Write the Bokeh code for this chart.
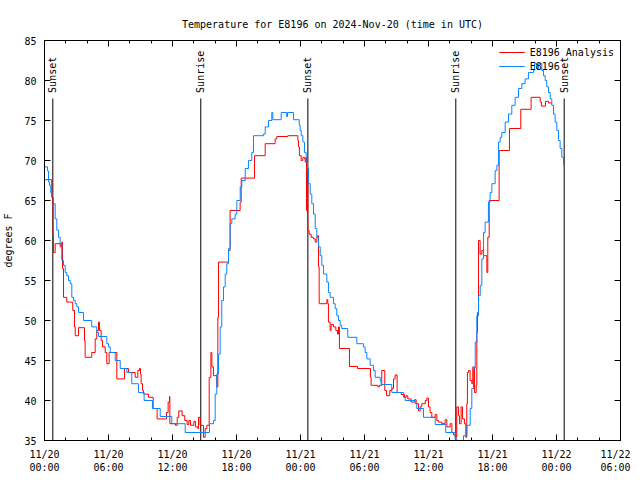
import math
from bokeh.plotting import figure
from bokeh.models import (Range1d, FixedTicker, LinearAxis, Legend, LegendItem,
                          ColumnDataSource)
from bokeh.embed import file_html
from bokeh.resources import INLINE
from bokeh.core.properties import value

# ---------------- data (hours since 2024-11-20 00:00 UTC, degrees F) -------------
obs_hours = [0.0, 0.28, 0.38, 0.47, 0.59, 0.68, 0.84, 1.0, 1.15, 1.31, 1.47, 1.62, 1.78,
             1.94, 2.09, 2.25, 2.41, 2.56, 2.72, 2.88, 3.03, 3.19, 3.66, 4.43, 4.9, 5.06,
             5.84, 6.0, 6.16, 6.63, 7.1, 7.72, 8.18, 8.81, 9.34, 10.12, 10.85, 11.93, 13.19,
             15.47, 15.84, 16.0, 16.15, 16.31, 16.47, 16.62, 16.78, 16.94, 17.09, 17.25,
             17.41, 17.56, 17.87, 18.03, 18.35, 18.5, 18.82, 19.12, 19.43, 19.59, 20.53,
             20.69, 21.0, 21.31, 21.4, 22.19, 22.7, 22.78, 23.34, 23.88, 23.97, 24.07,
             24.22, 24.38, 24.53, 24.66, 24.75, 24.91, 25.06, 25.22, 25.38, 25.53, 25.69,
             25.85, 26.0, 26.16, 26.47, 26.62, 26.78, 27.09, 27.25, 27.4, 27.56, 27.72,
             27.87, 28.43, 29.28, 29.9, 30.06, 30.22, 30.53, 30.84, 31.0, 31.47, 31.56,
             32.56, 33.66, 33.82, 34.75, 34.9, 35.53, 36.63, 37.62, 38.5, 38.65, 39.28,
             39.59, 39.91, 40.06, 40.22, 40.38, 40.53, 40.69, 40.85, 41.0, 41.16, 41.31,
             41.62, 41.78, 41.94, 42.25, 42.41, 42.56, 42.72, 42.87, 43.19, 43.5, 43.81,
             44.12, 44.44, 44.75, 45.06, 45.37, 45.84, 45.94, 46.12, 46.31, 46.62, 46.78,
             46.94, 47.09, 47.25, 47.41, 47.56, 47.72, 47.87, 48.03, 48.19, 48.34, 48.5,
             48.66, 48.75]
obs_temp = [69.2, 68.7, 67.3, 66.9, 66.0, 65.4, 64.6, 62.7, 61.3, 60.4, 59.6, 57.5, 56.9,
            56.0, 55.6, 55.0, 54.6, 52.9, 52.5, 52.1, 51.7, 51.0, 50.0, 49.2, 48.5, 48.0,
            47.1, 46.7, 46.0, 45.0, 44.0, 43.5, 42.1, 41.0, 40.0, 39.0, 38.0, 37.1, 36.0,
            37.1, 37.5, 40.8, 43.3, 45.8, 49.2, 52.5, 54.2, 55.8, 57.1, 59.0,
            62.1, 62.7, 63.3, 65.0, 66.7, 67.5, 69.0, 70.0, 71.0, 73.1, 73.3,
            74.2, 75.0, 76.0, 75.1, 76.0, 75.5, 76.0, 75.1, 74.4, 73.75, 73.1,
            72.3, 71.0, 69.8, 69.0, 67.1, 65.8, 64.6, 63.3, 61.5, 60.4, 59.2,
            58.1, 56.9, 55.8, 54.8, 53.5, 52.9, 52.1, 51.5, 50.6, 50.0, 49.4,
            49.0, 47.9, 47.1, 46.7, 46.0, 45.2, 44.4, 43.75, 42.9, 42.5, 42.0,
            41.0, 40.4, 40.0, 39.6, 39.0, 37.9, 37.0, 36.0, 35.2, 34.5, 35.6,
            36.9, 39.0, 41.5, 44.0, 47.3, 50.6, 53.1, 54.4, 57.7, 61.0, 62.3,
            64.8, 66.0, 67.1, 68.75, 69.4, 72.3, 72.9, 73.5, 74.8, 75.8, 76.9,
            77.9, 79.0, 79.6, 80.2, 81.0, 81.25, 82.1, 81.5, 82.1, 81.25, 80.6,
            80.0, 79.2, 78.5, 77.7, 76.9, 75.8, 74.8, 73.75, 72.5, 71.5, 70.4,
            69.4, 69.4]

ana_hours = [0.0, 0.68, 0.78, 0.81, 0.84, 1.0, 1.47, 1.62, 1.69, 1.78, 2.09, 2.65, 2.81,
             2.88, 3.19, 3.75, 3.81, 4.43, 4.75, 4.9, 5.06, 5.16, 5.31, 5.44, 5.69, 5.84,
             6.06, 6.78, 7.5, 7.87, 8.5, 8.75, 8.91, 9.0, 9.06, 9.19, 9.28, 9.75, 10.19,
             10.56, 11.44, 11.59, 11.72, 11.75, 12.28, 12.44, 12.59, 12.9, 13.15, 13.37,
             13.53, 13.69, 14.0, 14.15, 14.37, 14.44, 14.59, 14.9, 15.06, 15.22, 15.44,
             15.6, 15.69, 15.84, 16.15, 16.25, 16.31, 17.25, 17.4, 18.34, 18.44, 19.69,
             20.69, 21.62, 21.78, 22.81, 23.75, 23.81, 23.9, 24.06, 24.22, 24.38, 24.44,
             24.53, 24.56, 24.62, 24.69, 24.81, 25.0, 25.22, 25.38, 25.53, 25.62, 25.69,
             25.75, 26.47, 26.56, 26.62, 26.78, 26.87, 27.09, 27.31, 27.47, 27.56, 27.65,
             28.59, 29.34, 30.56, 30.62, 31.25, 31.4, 31.62, 31.9, 32.06, 32.37, 32.56,
             32.72, 32.87, 33.06, 33.44, 33.75, 33.9, 34.06, 34.37, 34.69, 34.84, 35.06,
             35.22, 35.37, 35.69, 35.84, 36.0, 36.15, 36.31, 36.62, 36.78, 36.94, 37.25,
             37.56, 37.72, 38.03, 38.19, 38.34, 38.5, 38.65, 38.81, 38.9, 39.06, 39.19,
             39.37, 39.5, 39.59, 39.65, 39.75, 39.9, 40.06, 40.15, 40.31, 40.47, 40.53,
             40.59, 40.69, 40.84, 41.0, 41.15, 41.47, 41.56, 41.69, 42.62, 43.59, 44.65,
             45.62, 46.47, 46.59, 46.97, 47.25, 47.6]
ana_temp = [67.6, 65.4, 64.6, 60.6, 58.5, 59.6, 59.2, 59.8, 56.5, 52.9, 52.3, 51.25, 49.2,
            48.1, 49.1, 47.5, 45.4, 46.0, 47.7, 48.75, 49.8, 48.75, 47.5, 46.7, 46.0, 44.6,
            46.0, 42.7, 44.0, 43.5, 42.9, 43.75, 44.0, 43.3, 42.1, 41.25, 40.8, 40.4, 39.0,
            37.7, 38.5, 39.8, 40.5, 37.1, 36.9, 37.9, 38.7, 38.1, 37.5, 37.0,
            37.5, 36.9, 37.4, 36.7, 36.5, 37.9, 36.9, 35.4, 36.5, 36.9, 42.9,
            46.0, 44.2, 43.1, 41.7, 50.4, 57.3, 58.75, 63.75, 64.8, 67.8, 70.6,
            72.1, 72.7, 73.0, 73.1, 72.5, 71.7, 70.6, 70.0, 70.4, 70.2, 69.8,
            70.4, 63.75, 68.3, 61.25, 60.8, 60.4, 60.2, 59.8, 60.4, 60.6, 56.7,
            52.1, 52.6, 52.1, 49.8, 48.75, 49.5, 49.2, 48.75, 48.3, 49.2, 46.5,
            44.25, 44.0, 42.9, 41.9, 41.7, 41.9, 43.75, 41.25, 40.6, 41.25, 41.5,
            42.7, 43.2, 41.0, 40.75, 40.4, 40.6, 40.2, 39.8, 40.1, 39.6, 38.7,
            39.2, 39.6, 40.0, 40.3, 39.2, 38.5, 37.9, 38.25, 37.5, 37.3, 37.1,
            37.6, 36.7, 37.1, 36.0, 35.7, 35.4, 39.2, 38.1, 37.1, 39.2, 37.7,
            37.1, 35.4, 39.6, 43.5, 43.75, 42.5, 42.1, 44.2, 41.0, 41.9, 48.5,
            51.0, 60.0, 58.3, 58.75, 58.1, 56.0, 60.4, 65.0, 71.25, 74.0, 76.4,
            77.9, 77.3, 76.8, 77.4, 77.2, 77.2]

event_hours = [0.78, 14.65, 24.69, 38.56, 48.72]
event_names = ["Sunset", "Sunrise", "Sunset", "Sunrise", "Sunset"]

x_tick_hours = [0, 6, 12, 18, 24, 30, 36, 42, 48, 54]
x_tick_labels = ["11/20\n00:00", "11/20\n06:00", "11/20\n12:00", "11/20\n18:00",
                 "11/21\n00:00", "11/21\n06:00", "11/21\n12:00", "11/21\n18:00",
                 "11/22\n00:00", "11/22\n06:00"]
x_minor_hours = list(range(0, 55, 2))
y_ticks = [35, 40, 45, 50, 55, 60, 65, 70, 75, 80, 85]

assert len(obs_hours) == len(obs_temp)
assert len(ana_hours) == len(ana_temp)

# ---------------- styling ----------------------------------------------------------
FONT = "DejaVu Sans Mono"
FS = "10px"
RED = "#ff0000"
BLUE = "#0a84ff"
LINE_TOP = 77.75
LABEL_Y = 78.45

p = figure(frame_width=576, frame_height=400, output_backend="svg",
           toolbar_location=None, x_range=Range1d(0, 54), y_range=Range1d(35, 85),
           min_border_left=44, min_border_right=10, min_border_top=40,
           min_border_bottom=34, x_axis_location=None, y_axis_location=None)
p.background_fill_color = "white"
p.border_fill_color = "white"
p.outline_line_color = "black"
p.outline_line_width = 1
p.outline_line_alpha = 1
p.grid.visible = False

p.title.text = "Temperature for E8196 on 2024-Nov-20 (time in UTC)"
p.title.align = "center"
p.title.text_font = FONT
p.title.text_font_size = FS
p.title.text_font_style = "normal"
p.title.text_color = "black"
p.title.standoff = 22

xticker = FixedTicker(ticks=x_tick_hours, minor_ticks=x_minor_hours)
yticker = FixedTicker(ticks=y_ticks, minor_ticks=[])


def style_axis(ax, ticks, labels=None):
    ax.axis_line_color = "black"
    ax.major_tick_line_color = "black"
    ax.minor_tick_line_color = "black"
    ax.major_tick_in = 6
    ax.major_tick_out = 0
    ax.minor_tick_in = 3
    ax.minor_tick_out = 0
    ax.major_label_text_font = FONT
    ax.major_label_text_font_size = FS
    if labels is None:
        # mirror axis: tick marks only, labels not painted
        ax.major_label_text_color = None
        ax.major_label_standoff = 0
    else:
        ax.major_label_text_color = "black"
        ax.major_label_overrides = {t: l for t, l in zip(ticks, labels)}


xb = LinearAxis(ticker=xticker)
style_axis(xb, x_tick_hours, x_tick_labels)
xb.major_label_standoff = 8
p.add_layout(xb, "below")

xt = LinearAxis(ticker=xticker)
style_axis(xt, x_tick_hours)
p.add_layout(xt, "above")

yl = LinearAxis(ticker=yticker, axis_label="degrees F")
style_axis(yl, y_ticks, [str(v) for v in y_ticks])
yl.major_label_standoff = 8
yl.axis_label_text_font = FONT
yl.axis_label_text_font_size = FS
yl.axis_label_text_font_style = "normal"
yl.axis_label_text_color = "black"
yl.axis_label_standoff = 7
p.add_layout(yl, "left")

yr = LinearAxis(ticker=yticker)
style_axis(yr, y_ticks)
p.add_layout(yr, "right")

# sunrise / sunset markers
ev = ColumnDataSource(dict(x=event_hours, name=event_names,
                           y0=[35] * len(event_hours), y1=[LINE_TOP] * len(event_hours),
                           ly=[LABEL_Y] * len(event_hours)))
p.segment(x0="x", y0="y0", x1="x", y1="y1", source=ev, line_color="black", line_width=1)
p.text(x="x", y="ly", text="name", source=ev, angle=math.pi / 2,
       text_align="left", text_baseline="middle", text_font=value(FONT),
       text_font_size=FS, text_color="black")

r_ana = p.step(ana_hours, ana_temp, mode="after", line_color=RED, line_width=1)
r_obs = p.step(obs_hours, obs_temp, mode="after", line_color=BLUE, line_width=1)

legend = Legend(items=[LegendItem(label="E8196 Analysis", renderers=[r_ana]),
                       LegendItem(label="E8196", renderers=[r_obs])],
                location="top_right")
legend.background_fill_alpha = 0
legend.border_line_alpha = 0
legend.label_text_font = FONT
legend.label_text_font_size = FS
legend.label_text_color = "black"
legend.glyph_width = 26
legend.glyph_height = 12
legend.label_height = 12
legend.spacing = 2
legend.padding = 0
legend.margin = 6
p.add_layout(legend)

open("out.html", "w").write(file_html(p, INLINE))
